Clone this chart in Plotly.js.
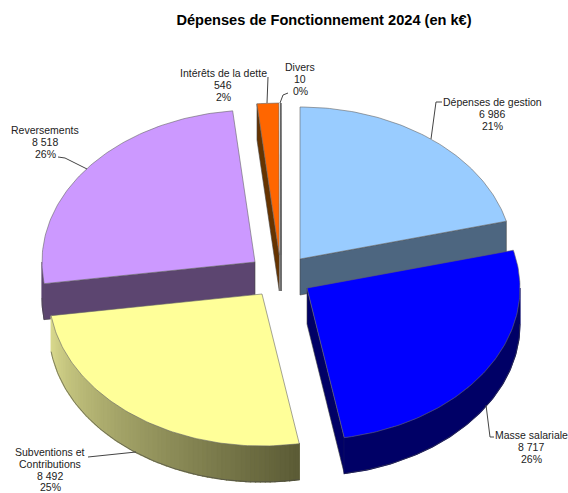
<!DOCTYPE html>
<html>
<head>
<meta charset="utf-8">
<script src="https://cdn.plot.ly/plotly-3.0.1.min.js"></script>
<style>html,body{margin:0;padding:0;background:#fff;overflow:hidden}#chart{width:568px;height:493px}</style>
</head>
<body>
<div id="chart"></div>
<script>
// ---- data ----
const categories = ["Dépenses de gestion","Masse salariale","Subventions et|Contributions","Reversements","Intérêts de la dette","Divers"];
const values = [6986,8717,8492,8518,546,10];
const valueLabels = ["6 986","8 717","8 492","8 518","546","10"];
const percentLabels = ["21%","26%","25%","26%","2%","0%"];

// ---- styles and layout ----
const topColors  = ["#99CCFF","#0000FF","#FFFF99","#CC99FF","#FF6600","#C8C8C8"];
const faceColors = ["#4D6680","#000066","#808050","#5C4570","#663300","#777777"];
const rimFrom    = ["#4D6680","#000066","#DADA8E","#5C4570","#663300","#777777"];
const rimTo      = ["#4D6680","#000066","#5C5C36","#5C4570","#663300","#777777"];
const apexX = [300,307,262,255,279.3,281];
const apexY = [259,288,294,262,255,255];
const RX = 213, RY = 152, DEPTH = 36;
const drawOrder = [4,5,3,0,2,1];
const labelX = [492,531,50,45,223,300];
const labelFirstY = [102,435,452,130,73,67];
const LINE_STEP = 11.8;
const leaderX = [[442,436,431],[494,490,486],[88,136],[58,65,87],[268,267],[288,283,280]];
const leaderY = [[102,102,139],[437,437,405],[457,452],[157,158,169],[77,103],[93,95,103]];

// ---- geometry: slice angles come only from the values ----
const total = values.reduce((a,b)=>a+b,0);
let run = 0;
const starts = [], ends = [];
values.forEach(v=>{starts.push(run); run += v/total*360; ends.push(run);});
const rad = d=>d*Math.PI/180;
const px = (i,t)=>apexX[i]+RX*Math.sin(rad(t));
const py = (i,t)=>apexY[i]-RY*Math.cos(rad(t));
function hex(c){return [1,3,5].map(k=>parseInt(c.substr(k,2),16));}
function mix(a,b,f){const A=hex(a),B=hex(b);return "rgb("+A.map((v,k)=>Math.round(v+(B[k]-v)*f)).join(",")+")";}
function poly(xs,ys,fill,line,name){
  return {type:"scatter",mode:"lines",x:xs.concat(xs[0]),y:ys.concat(ys[0]),fill:"toself",fillcolor:fill,
    line:{color:line||fill,width:line?0.6:1.2},hoverinfo:"text",text:name,showlegend:false};
}
function arc(i,a,b,dy){
  const xs=[],ys=[];const n=Math.max(2,Math.ceil(Math.abs(b-a)));
  for(let k=0;k<=n;k++){const t=a+(b-a)*k/n;xs.push(px(i,t));ys.push(py(i,t)+dy);}
  return {xs,ys};
}
const traces=[];
drawOrder.forEach(i=>{
  const a=starts[i],b=ends[i],name=categories[i].replace("|"," ");
  const sinA=Math.sin(rad(a)),sinB=Math.sin(rad(b));
  // radial cut faces that turn towards the viewer
  [[a,sinA<0],[b,sinB>0]].forEach(([t,show])=>{
    if(!show) return;
    traces.push(poly([apexX[i],px(i,t),px(i,t),apexX[i]],
      [apexY[i],py(i,t),py(i,t)+DEPTH,apexY[i]+DEPTH],faceColors[i],"#444444",name));
  });
  // outer rim
  const r0=Math.max(a,90),r1=Math.min(b,270);
  if(r1>r0){
    const strips=rimFrom[i]===rimTo[i]?1:70;
    for(let s=0;s<strips;s++){
      const f=strips===1?0:s/(strips-1);
      const t0=r1-(r1-r0)*s/strips,t1=r1-(r1-r0)*(s+1)/strips;
      const up=arc(i,t0,t1,0),dn=arc(i,t1,t0,DEPTH);
      traces.push(poly(up.xs.concat(dn.xs),up.ys.concat(dn.ys),mix(rimFrom[i],rimTo[i],f),null,name));
    }
    const low=arc(i,r0,r1,DEPTH);
    traces.push({type:"scatter",mode:"lines",x:low.xs,y:low.ys,line:{color:"#444444",width:0.6},hoverinfo:"skip",showlegend:false});
  }
  // top surface
  const top=arc(i,a,b,0);
  traces.push(poly([apexX[i]].concat(top.xs),[apexY[i]].concat(top.ys),topColors[i],"#666666",name+": "+valueLabels[i]));
});
// leader lines
categories.forEach((c,i)=>{
  traces.push({type:"scatter",mode:"lines",x:leaderX[i],y:leaderY[i],line:{color:"#444444",width:1},hoverinfo:"skip",showlegend:false});
});

const annotations=[];
categories.forEach((c,i)=>{
  c.split("|").concat([valueLabels[i],percentLabels[i]]).forEach((line,k)=>{
    annotations.push({xref:"x",yref:"y",x:labelX[i],y:labelFirstY[i]+k*LINE_STEP,xanchor:"center",yanchor:"middle",
      showarrow:false,text:line,font:{family:"Liberation Sans, Arial, sans-serif",size:10.5,color:"#222222"}});
  });
});

const layout={
  width:568,height:493,margin:{l:0,r:0,t:0,b:0},paper_bgcolor:"#fff",plot_bgcolor:"#fff",showlegend:false,
  title:{text:"<b>Dépenses de Fonctionnement 2024 (en k€)</b>",x:324/568,xanchor:"center",xref:"paper",
    y:1-20/493,yanchor:"middle",yref:"paper",font:{family:"Liberation Sans, Arial, sans-serif",size:14.6,color:"#000"}},
  xaxis:{range:[0,568],visible:false,fixedrange:true},
  yaxis:{range:[493,0],visible:false,fixedrange:true},
  annotations
};
Plotly.newPlot("chart",traces,layout,{displayModeBar:false});
</script>
</body>
</html>
